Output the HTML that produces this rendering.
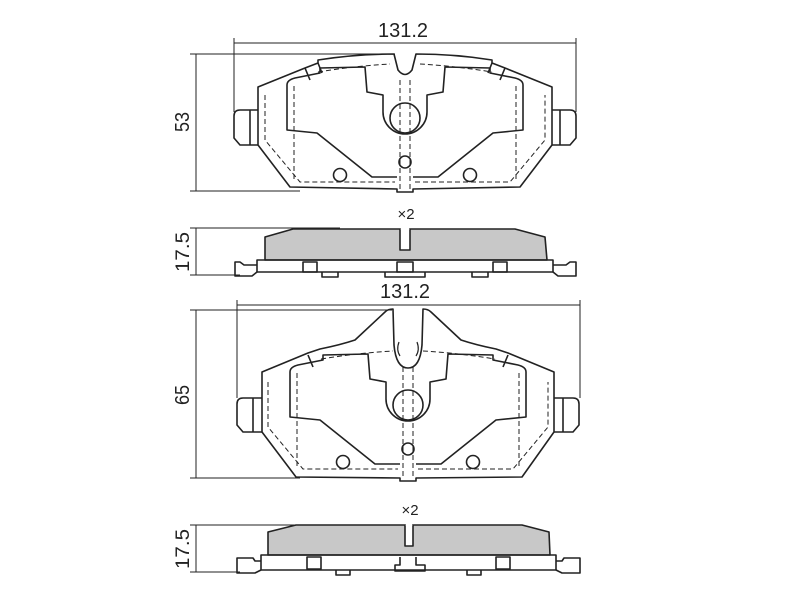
<!DOCTYPE html>
<html><head><meta charset="utf-8"><style>
html,body{margin:0;padding:0;background:#fff;width:800px;height:600px;overflow:hidden}
svg{display:block}
text{font-family:"Liberation Sans",sans-serif;fill:#222}
</style></head><body>
<svg width="800" height="600" viewBox="0 0 800 600" xmlns="http://www.w3.org/2000/svg" fill="none" stroke="#222" stroke-width="1.6" stroke-linejoin="round">
<!-- ===== TOP PAD ===== -->
<g stroke-width="1">
<line x1="234" y1="43" x2="576" y2="43"/>
<line x1="234" y1="38" x2="234" y2="112"/>
<line x1="576" y1="38" x2="576" y2="112"/>
<line x1="190" y1="54" x2="395" y2="54"/>
<line x1="190" y1="191" x2="300" y2="191"/>
<line x1="196" y1="54" x2="196" y2="191"/>
</g>
<text x="403" y="37" font-size="20" text-anchor="middle" textLength="50" lengthAdjust="spacingAndGlyphs" stroke="none">131.2</text>
<text transform="translate(189,122) rotate(-90)" font-size="20" text-anchor="middle" textLength="20" lengthAdjust="spacingAndGlyphs" stroke="none">53</text>

<path d="M258,87 L305,68 L318,63 L318,60 Q355,54 394,54 L398,70 Q405,79 412,70 L416,54 Q455,54 492,60 L492,63 L505,68 L552,87 L552,145 L520,187 L413,189 L413,192 L397,192 L397,189 L290,187 L258,145 Z"/>
<path d="M258,110 L240,110 Q234,110 234,116 L234,138 L240,145 L258,145 M250,110 L250,145"/>
<path d="M552,110 L570,110 Q576,110 576,116 L576,138 L570,145 L552,145 M560,110 L560,145"/>
<g id="inner">
<path d="M397,177 L372,177 L317,133 L287,130 L287,85 Q287,80 295,78 L320,73 L320,68 L365,67 L367,92 L383,95 L383,112 A22,22 0 0 0 427,112 L427,95 L443,92 L445,67 L490,68 L490,73 L515,78 Q523,80 523,85 L523,130 L493,133 L438,177 L413,177"/>
<circle cx="405" cy="118" r="15"/>
<circle cx="340" cy="175" r="6.5"/>
<circle cx="470" cy="175" r="6.5"/>
<circle cx="405" cy="162" r="6"/>
<path d="M305,68 L310,80 M505,68 L500,80"/>
<g stroke-dasharray="5,3" stroke-width="1">
<path d="M265,95 L265,140 L300,182 L395,182 M415,182 L510,182 L545,140 L545,95"/>
<path d="M294,86 L294,182 M516,86 L516,182"/>
<path d="M400,80 L400,190 M410,80 L410,190"/>
<path d="M318,72 Q355,66 390,64 M420,64 Q455,66 492,72"/>
</g>
</g>
<path d="M318,63 L322,73 M492,63 L488,73"/>

<!-- side view 1 -->
<g stroke-width="1">
<line x1="190" y1="228" x2="340" y2="228"/>
<line x1="190" y1="275" x2="240" y2="275"/>
<line x1="196" y1="228" x2="196" y2="275"/>
</g>
<text transform="translate(189,252) rotate(-90)" font-size="19" text-anchor="middle" textLength="40" lengthAdjust="spacingAndGlyphs" stroke="none">17.5</text>
<text x="406" y="219" font-size="15" text-anchor="middle" stroke="none">×2</text>
<path d="M265,260 L265,237 L293,229 L515,229 L545,237 L547,260 Z" fill="#c8c8c8"/>
<path d="M400,229 L400,250 L410,250 L410,229" fill="#fff"/>
<path d="M400.8,229 L409.2,229" stroke="#fff" stroke-width="2"/>
<path d="M257,260 L553,260 L553,272 L257,272 Z"/>
<path d="M257,265 L244,265 L240,262 L235,262 L235,276 L252,276 L257,272 M553,265 L566,265 L570,262 L576,262 L576,276 L558,276 L553,272"/>
<rect x="303" y="262" width="14" height="10"/>
<rect x="493" y="262" width="14" height="10"/>
<rect x="397" y="262" width="16" height="10"/>
<path d="M322,272 L322,277 L338,277 L338,272 M472,272 L472,277 L488,277 L488,272 M385,272 L385,277 L425,277 L425,272"/>

<!-- ===== BOTTOM PAD ===== -->
<g stroke-width="1">
<line x1="237" y1="305" x2="580" y2="305"/>
<line x1="237" y1="300" x2="237" y2="398"/>
<line x1="580" y1="300" x2="580" y2="398"/>
<line x1="190" y1="310" x2="392" y2="310"/>
<line x1="190" y1="478" x2="300" y2="478"/>
<line x1="196" y1="310" x2="196" y2="478"/>
</g>
<text x="405" y="298" font-size="20" text-anchor="middle" textLength="50" lengthAdjust="spacingAndGlyphs" stroke="none">131.2</text>
<text transform="translate(189,395) rotate(-90)" font-size="20" text-anchor="middle" textLength="20" lengthAdjust="spacingAndGlyphs" stroke="none">65</text>

<path d="M262,372 L308,353 L320,349 Q340,345 355,340 L385,312 Q388,309 393,309 L394,345 Q396,368 408,368 Q420,368 422,345 L423,309 Q428,309 431,312 L461,340 Q476,345 496,349 L508,353 L554,372 L554,432 L522,477 L416,478 L416,481 L400,481 L400,478 L296,477 L262,432 Z"/>
<path d="M262,398 L243,398 Q237,398 237,404 L237,425 L243,432 L262,432 M253,398 L253,432"/>
<path d="M554,398 L573,398 Q579,398 579,404 L579,425 L573,432 L554,432 M563,398 L563,432"/>
<use href="#inner" transform="translate(3,287)"/>
<path d="M399,342 Q396,350 400,356 M417,342 Q420,350 416,356" stroke-width="1.2"/>

<!-- side view 2 -->
<g stroke-width="1">
<line x1="190" y1="525" x2="345" y2="525"/>
<line x1="190" y1="572" x2="240" y2="572"/>
<line x1="196" y1="525" x2="196" y2="572"/>
</g>
<text transform="translate(189,549) rotate(-90)" font-size="19" text-anchor="middle" textLength="40" lengthAdjust="spacingAndGlyphs" stroke="none">17.5</text>
<text x="410" y="515" font-size="15" text-anchor="middle" stroke="none">×2</text>
<path d="M268,555 L268,532 L296,525 L522,525 L549,532 L550,555 Z" fill="#c8c8c8"/>
<path d="M405,525 L405,546 L413,546 L413,525" fill="#fff"/>
<path d="M405.8,525 L412.2,525" stroke="#fff" stroke-width="2"/>
<path d="M261,555 L556,555 L556,570 L261,570 Z"/>
<path d="M261,561 L255,561 L253,558 L237,558 L237,573 L255,573 L261,570 M556,561 L562,561 L564,558 L580,558 L580,573 L562,573 L556,570"/>
<rect x="307" y="557" width="14" height="12"/>
<rect x="496" y="557" width="14" height="12"/>
<path d="M400,557 L400,565 L395,565 L395,571 L425,571 L425,565 L416,565 L416,557"/>
<path d="M336,570 L336,575 L350,575 L350,570 M467,570 L467,575 L481,575 L481,570"/>
</svg>
</body></html>
